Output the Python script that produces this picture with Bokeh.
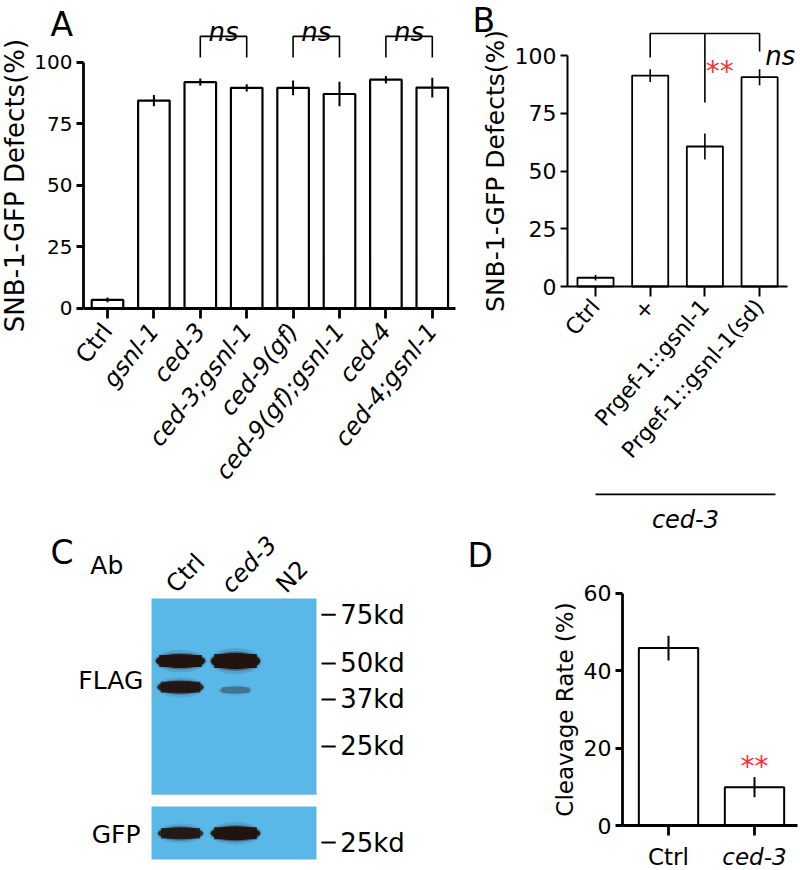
import math
from bokeh.plotting import figure
from bokeh.models import LinearAxis, FixedTicker, Range1d, LogScale, ColumnDataSource
from bokeh.layouts import row, column
from bokeh.core.properties import value
from bokeh.embed import file_html
from bokeh.resources import INLINE

FONT = "DejaVu Sans"
RED = "#ff3030"
BLOT = "#5ab8e9"
BAND = "#231410"

# ---------------- Panel A data ----------------
a_categories = ["Ctrl", "gsnl-1", "ced-3", "ced-3;gsnl-1", "ced-9(gf)",
                "ced-9(gf);gsnl-1", "ced-4", "ced-4;gsnl-1"]
a_values = [3.5, 84.5, 92.0, 89.7, 89.7, 87.2, 93.0, 89.8]
a_errors = [1.0, 2.3, 1.5, 1.5, 3.0, 5.0, 1.5, 4.0]
a_upright = ["Ctrl"]
a_pairs = [(2, 3), (4, 5), (6, 7)]
a_pair_labels = ["ns", "ns", "ns"]
a_yticks = [0, 25, 50, 75, 100]

# ---------------- Panel B data ----------------
b_categories = ["Ctrl", "+", "Prgef-1::gsnl-1", "Prgef-1::gsnl-1(sd)"]
b_values = [3.8, 91.3, 60.6, 90.6]
b_errors = [1.2, 2.8, 5.6, 3.5]
b_reference = 2
b_compared = [1, 3]
b_compared_labels = ["**", "ns"]
b_group_label = "ced-3"
b_yticks = [0, 25, 50, 75, 100]

# ---------------- Panel C data ----------------
c_lanes = ["Ctrl", "ced-3", "N2"]
c_lane_italic = [False, True, False]
c_markers_kd = [75, 50, 37, 25]
c_gfp_markers_kd = [25]
c_flag_band_lane = ["Ctrl", "Ctrl", "ced-3", "ced-3"]
c_flag_band_kd = [51, 41, 51, 40]
c_flag_band_signal = [1.0, 0.85, 1.3, 0.2]
c_gfp_band_lane = ["Ctrl", "ced-3"]
c_gfp_band_kd = [27, 27]
c_gfp_band_signal = [0.8, 1.0]
c_flag_membrane_kd = (16.7, 86.0)
c_gfp_membrane_kd = (21.7, 33.8)

# ---------------- Panel D data ----------------
d_categories = ["Ctrl", "ced-3"]
d_values = [45.8, 9.9]
d_errors = [3.2, 2.6]
d_upright = ["Ctrl"]
d_sig = ["", "**"]
d_yticks = [0, 20, 40, 60]


def make_fig(w, h, xr, yr):
    p = figure(width=w, height=h, x_range=Range1d(*xr), y_range=Range1d(*yr),
               output_backend="svg", toolbar_location=None,
               x_axis_type=None, y_axis_type=None, min_border=0)
    p.outline_line_color = None
    p.background_fill_color = "white"
    p.border_fill_color = "white"
    return p


def add_yaxis(p, loc, ticks, label, tick_size, label_size, lw, label_standoff=3):
    ax = LinearAxis(fixed_location=loc, bounds=(ticks[0], ticks[-1]),
                    ticker=FixedTicker(ticks=ticks),
                    axis_label=label, axis_label_text_font=FONT,
                    axis_label_text_font_size=label_size,
                    axis_label_text_font_style="normal",
                    axis_label_text_color="black", axis_label_standoff=label_standoff,
                    major_label_text_font=FONT, major_label_text_font_size=tick_size,
                    major_label_text_color="black", major_label_standoff=4,
                    axis_line_color="black", axis_line_width=lw,
                    major_tick_line_color="black", major_tick_line_width=lw,
                    major_tick_in=0, major_tick_out=7,
                    minor_tick_line_color=None)
    p.add_layout(ax, "left")


def add_xaxis(p, bounds, ticks, labels, style, size, orient, lw, show_line=True,
              standoff=5):
    ax = LinearAxis(fixed_location=0, bounds=bounds,
                    ticker=FixedTicker(ticks=ticks),
                    major_label_overrides={t: l for t, l in zip(ticks, labels)},
                    major_label_text_font=FONT, major_label_text_font_size=size,
                    major_label_text_font_style=style, major_label_text_color="black",
                    major_label_orientation=orient, major_label_standoff=standoff,
                    axis_line_color="black" if show_line else None, axis_line_width=lw,
                    major_tick_line_color="black" if show_line else None,
                    major_tick_line_width=lw, major_tick_in=0, major_tick_out=10,
                    minor_tick_line_color=None)
    p.add_layout(ax, "below")


def bars(p, values, errors, width, lw, elw):
    xs = list(range(len(values)))
    src = ColumnDataSource(dict(x=xs, top=values,
                                lo=[v - e for v, e in zip(values, errors)],
                                hi=[v + e for v, e in zip(values, errors)]))
    p.vbar(x="x", top="top", bottom=0, width=width, source=src,
           fill_color="white", line_color="black", line_width=lw)
    p.segment(x0="x", y0="lo", x1="x", y1="hi", source=src,
              line_color="black", line_width=elw)
    return xs


def txt(p, x, y, s, size, style="normal", align="left", baseline="alphabetic",
        color="black", angle=0.0, **kw):
    p.text(x=[x], y=[y], text=[s], text_font=value(FONT), text_font_size=size,
           text_font_style=style, text_align=align, text_baseline=baseline,
           text_color=color, angle=angle, **kw)


# ======================= Panel A (left column, top) =======================
HA = 528
pA = make_fig(460, HA, (-2.306, 7.608), (-89.43, 125.2))
a_x = bars(pA, a_values, a_errors, 0.68, 2.2, 2.0)
add_yaxis(pA, -0.52, a_yticks, "SNB-1-GFP Defects(%)", "20px", "26px", 2.8,
          label_standoff=1)
add_xaxis(pA, (-0.52, 7.5), a_x,
          ["" if c in a_upright else c for c in a_categories],
          "italic", "24px", 0.9, 2.8, standoff=8)
up_idx = [i for i, c in enumerate(a_categories) if c in a_upright]
add_xaxis(pA, (-0.52, 7.5), up_idx, [a_categories[i] for i in up_idx],
          "normal", "24px", 0.9, 2.8, show_line=False, standoff=8)
pA.multi_line(xs=[[i, i, j, j] for i, j in a_pairs],
              ys=[[102, 110.6, 110.6, 102] for _ in a_pairs],
              line_color="black", line_width=1.6)
pA.text(x=[(i + j) / 2 for i, j in a_pairs], y=[112.2] * len(a_pairs),
        text=a_pair_labels, text_font=value(FONT), text_font_size="26px",
        text_font_style="italic", text_align="center", text_baseline="alphabetic",
        text_color="black")
txt(pA, -1.23, 123.2, "A", "33px", baseline="top")

# ======================= Panel B (right column, top) =======================
HB = 535
pB = make_fig(340, HB, (-2.468, 3.748), (-107.79, 123.81))
b_x = bars(pB, b_values, b_errors, 0.66, 1.8, 1.6)
add_yaxis(pB, -0.512, b_yticks, "SNB-1-GFP Defects(%)", "22px", "25px", 2.0,
          label_standoff=2)
add_xaxis(pB, (-0.512, 3.51), b_x, b_categories, "normal", "22px", 0.85, 2.0,
          standoff=6)
top_y = 109.5
leg_ends = [99.1, 101.7]
pB.multi_line(xs=[[b_compared[0], b_compared[0], b_compared[1], b_compared[1]],
                  [b_reference, b_reference]],
              ys=[[leg_ends[0], top_y, top_y, leg_ends[1]], [top_y, 79.7]],
              line_color="black", line_width=1.6)
txt(pB, b_reference + 0.27, 93.1, b_compared_labels[0], "28px", align="center",
    baseline="middle", color=RED)
txt(pB, b_compared[1] + 0.38, 100.0, b_compared_labels[1], "26px", style="italic",
    align="center")
pB.line(x=[b_x[0], b_x[-1] + 0.29], y=[-90.0, -90.0], line_color="black", line_width=1.6)
txt(pB, (b_x[0] + b_x[-1] + 0.29) / 2, -100.9, b_group_label, "24px", style="italic",
    align="center")
txt(pB, -2.249, 123.8, "B", "33px", baseline="top")

# ======================= Panel C (left column, bottom) =======================
HC = 870 - HA
pC = make_fig(460, HC, (-3.273, 5.091), (8.875, 154.2))
pC.y_scale = LogScale()
k_gfp = 25 / 11.21
pC.extra_y_ranges = {"gfp": Range1d(8.875 * k_gfp, 154.2 * k_gfp)}
pC.extra_y_scales = {"gfp": LogScale()}
lane_pos = {n: i for i, n in enumerate(c_lanes)}
left_edge, right_edge = -0.527, len(c_lanes) - 1 + 0.473
pC.quad(left=[left_edge], right=[right_edge], bottom=[c_flag_membrane_kd[0]],
        top=[c_flag_membrane_kd[1]], fill_color=BLOT, line_color=None)
pC.quad(left=[left_edge], right=[right_edge], bottom=[c_gfp_membrane_kd[0]],
        top=[c_gfp_membrane_kd[1]], fill_color=BLOT, line_color=None,
        y_range_name="gfp")


def draw_bands(p, lanes, kds, signals, rname="default"):
    xs = [lane_pos[n] for n in lanes]
    w = [0.5 + 0.4 * min(s, 1.0) for s in signals]
    h = [6 + 8 * s for s in signals]
    a = [min(s, 1.0) for s in signals]
    src = ColumnDataSource(dict(
        x=xs, y=kds,
        w1=[v * 1.06 for v in w], h1=[v * 1.6 for v in h], a1=[v * 0.12 for v in a],
        w2=[v * 1.02 for v in w], h2=[v * 1.2 for v in h], a2=[v * 0.35 for v in a],
        w3=w, h3=h, a3=[v * 0.97 for v in a],
        w4=[v * 0.86 for v in w], h4=[v * 0.85 for v in h]))
    for wn, hn, an in [("w1", "h1", "a1"), ("w2", "h2", "a2"), ("w3", "h3", "a3")]:
        p.ellipse(x="x", y="y", width=wn, height=hn, height_units="screen",
                  fill_color=BAND, fill_alpha=an, line_color=None, source=src,
                  y_range_name=rname)
    p.rect(x="x", y="y", width="w4", height="h4", height_units="screen",
           fill_color=BAND, fill_alpha="a3", line_color=None, source=src,
           y_range_name=rname)


draw_bands(pC, c_flag_band_lane, c_flag_band_kd, c_flag_band_signal)
draw_bands(pC, c_gfp_band_lane, c_gfp_band_kd, c_gfp_band_signal, "gfp")

for kds, rname in [(c_markers_kd, "default"), (c_gfp_markers_kd, "gfp")]:
    pC.segment(x0=[right_edge + 0.09] * len(kds), x1=[right_edge + 0.35] * len(kds),
               y0=kds, y1=kds, line_color="black", line_width=2, y_range_name=rname)
    pC.text(x=[right_edge + 0.43] * len(kds), y=kds, text=[f"{k}kd" for k in kds],
            text_font=value(FONT), text_font_size="26px", text_align="left",
            text_baseline="middle", text_color="black", y_range_name=rname)

pC.text(x=[lane_pos[n] - 0.18 for n in c_lanes], y=[93.4] * len(c_lanes),
        text=c_lanes, text_font=value(FONT), text_font_size="24px",
        text_font_style=["italic" if it else "normal" for it in c_lane_italic],
        text_align="left", text_baseline="alphabetic", angle=0.8, text_color="black")
txt(pC, -2.364, 149.0, "C", "33px", baseline="top")
txt(pC, -1.64, 113.0, "Ab", "25px", baseline="middle")
txt(pC, left_edge - 0.15, 43.3, "FLAG", "25px", align="right", baseline="middle")
txt(pC, left_edge - 0.2, 26.7, "GFP", "25px", align="right", baseline="middle",
    y_range_name="gfp")

# ======================= Panel D (right column, bottom) =======================
HD = 870 - HB
pD = make_fig(340, HD, (-2.419, 1.535), (-11.61, 74.84))
d_x = bars(pD, d_values, d_errors, 0.69, 2.0, 2.0)
add_yaxis(pD, -0.535, d_yticks, "Cleavage Rate (%)", "22px", "23px", 2.8)
add_xaxis(pD, (-0.535, 1.5), d_x,
          ["" if c in d_upright else c for c in d_categories],
          "italic", "23px", "horizontal", 2.8, standoff=8)
dup = [i for i, c in enumerate(d_categories) if c in d_upright]
add_xaxis(pD, (-0.535, 1.5), dup, [d_categories[i] for i in dup],
          "normal", "23px", "horizontal", 2.8, show_line=False, standoff=8)
pD.text(x=d_x, y=[v + e + 2.7 for v, e in zip(d_values, d_errors)], text=d_sig,
        text_font=value(FONT), text_font_size="28px", text_align="center",
        text_baseline="middle", text_color=RED)
txt(pD, -2.337, 74.6, "D", "33px", baseline="top")

layout = row(column(pA, pC), column(pB, pD))
open("out.html", "w").write(file_html(layout, INLINE))
